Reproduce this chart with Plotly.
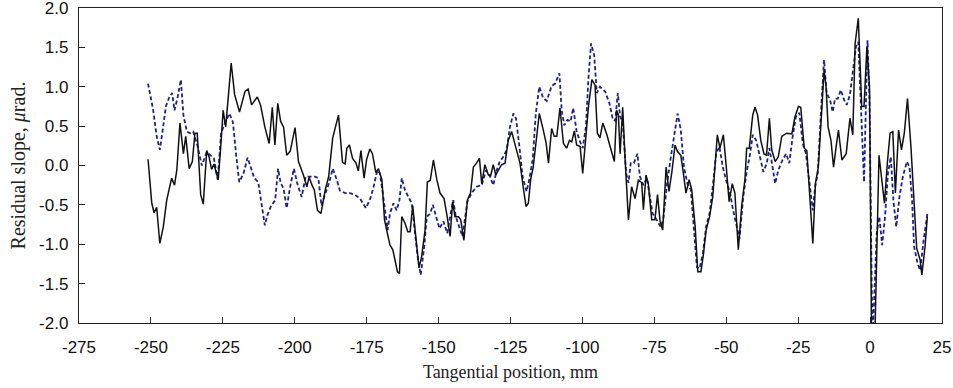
import plotly.graph_objects as go

black_x = [-251,-249.7,-248.9,-248,-246.9,-245.7,-244.5,-242.8,-241.8,-241,-239.9,-238.7,-237.9,-236.7,-235.6,-234.7,-233.9,-232.7,-231.8,-230.6,-229.8,-228.9,-228.1,-227.4,-226.6,-225.8,-224.9,-224,-223.2,-222.1,-220.9,-219.2,-218.1,-217.3,-216.2,-215,-213,-211.9,-210.4,-208.9,-207.8,-206.9,-205.9,-204.9,-203.9,-202.8,-201.6,-199.9,-198.7,-197,-195.8,-195,-194,-193.2,-192.1,-190.9,-189.4,-188.2,-186.8,-184.8,-183.4,-182.5,-181.9,-181,-179.9,-178.7,-177.9,-177,-175.9,-175,-173.9,-173,-171.8,-170.9,-169.7,-168.8,-167.8,-166.9,-165.9,-165.1,-164.3,-163.6,-162.8,-161.7,-160.7,-159.9,-159,-157.8,-156.8,-155.9,-154.7,-153.9,-152.9,-151.8,-150.6,-149.5,-148.1,-147,-146,-145.1,-144.3,-143.1,-142.3,-141.2,-140,-138.9,-137.9,-136.8,-135.8,-135,-133.9,-132.7,-131.9,-131,-130.1,-129.2,-128.1,-126.9,-125.8,-124.6,-123.8,-122.8,-121.7,-120.6,-119.6,-118.8,-118,-117.1,-115.9,-115,-113.6,-112.6,-111.8,-110.7,-109.8,-108.9,-107.8,-106.6,-105.5,-104.5,-103.7,-102.8,-102,-100.8,-99.9,-98.8,-97.9,-96.7,-95.6,-94.8,-93.9,-92.9,-91.5,-90.2,-88.9,-88.1,-87.5,-86.9,-86,-85.2,-84,-82.9,-81.7,-80.5,-79.4,-78.8,-77.9,-77.1,-75.9,-74.8,-73.9,-73,-72.1,-70.9,-69.9,-68.9,-67.8,-67,-65.8,-64.9,-64,-62.9,-62,-60.8,-59.9,-58.8,-57.9,-57,-55.8,-54.7,-53.9,-53.1,-52.2,-51,-50.1,-49,-47.9,-47,-45.8,-44.6,-43.5,-42.9,-42,-40.8,-40,-39.1,-38,-36.9,-36,-35,-34.2,-33,-31.9,-30.7,-29,-27.2,-26.1,-24.9,-24.1,-22.9,-22,-21.1,-19.9,-19,-18,-16.8,-16,-15.3,-14.6,-13.6,-12.7,-11.8,-11,-9.8,-8.3,-7,-6,-5.2,-4.1,-2.9,-2.1,-1.1,-0.2,0.6,1.4,3.1,4.1,5,6,6.95,7.9,8.8,9.9,10.9,11.9,13,14.2,15.3,16.2,17.4,18,19.1,19.9]
black_y = [0.08,-0.48,-0.6,-0.53,-0.99,-0.78,-0.44,-0.16,-0.25,-0.06,0.54,0.15,0.37,-0.04,0.05,0.41,0.41,-0.37,-0.49,0.19,0.11,-0.05,0.02,-0.06,-0.18,0.2,0.7,0.49,0.83,1.30,0.9,0.68,0.83,0.94,0.97,0.77,0.87,0.77,0.49,0.28,0.74,0.26,0.79,0.56,0.49,0.13,0.18,0.48,0.05,-0.12,-0.27,-0.15,-0.25,-0.31,-0.57,-0.61,-0.31,-0.14,0.35,0.64,0.04,0.02,0.22,0.26,0.09,0.03,-0.07,0.19,-0.16,0.08,0.21,0.15,-0.09,-0.04,-0.18,-0.69,-0.86,-1.01,-1.07,-1.22,-1.35,-1.37,-0.65,-0.73,-0.84,-0.84,-0.51,-0.95,-1.30,-1.16,-0.82,-0.21,-0.19,0.07,-0.18,-0.35,-0.42,-0.65,-0.90,-0.46,-0.65,-0.65,-0.69,-0.95,-0.44,-0.35,-0.02,0.03,0.09,-0.23,0.01,-0.12,-0.13,0.01,-0.12,-0.06,0.01,0.03,0.32,0.43,0.32,0.15,0.03,-0.27,-0.52,-0.48,-0.18,-0.02,0.41,0.66,0.45,0.28,0.03,0.47,0.37,0.37,0.73,0.28,0.22,0.32,0.30,0.44,0.26,0.24,-0.10,0.41,0.75,1.09,1.02,0.41,0.35,0.54,0.39,0.22,0.05,0.70,0.64,0.15,0.74,0.11,-0.69,-0.27,-0.42,-0.18,-0.22,-0.56,-0.12,-0.23,-0.69,-0.69,-0.37,-0.71,-0.82,-0.02,-0.33,-0.08,0.26,0.18,0.13,-0.10,-0.35,-0.18,-0.31,-0.78,-1.35,-1.35,-1.12,-0.82,-0.65,-0.40,0.03,0.39,0.22,0.39,0.03,-0.46,-0.23,-0.35,-1.07,-0.50,-0.18,0.22,0.22,0.64,0.74,0.64,0.32,0.15,0.13,0.60,0.20,0.05,0.11,0.37,0.41,0.40,0.62,0.75,0.74,0.22,0.19,-0.27,-0.99,-0.23,-0.02,0.70,1.21,1.0,0.49,0.32,-0.02,0.24,0.45,0.07,0.15,0.60,0.39,1.55,1.87,0.75,0.75,1.51,1.0,-2.6,-2.6,0.13,-0.23,-0.48,0.03,0.41,0.43,-0.35,0.45,0.20,0.41,0.85,0.24,-0.44,-1.05,-1.20,-1.39,-1.03,-0.65]

blue_x = [-251,-249.2,-248,-246.9,-245.9,-244.8,-243.6,-242.6,-241.8,-240.7,-239.6,-238.7,-237.5,-236.3,-235.3,-233.8,-232.3,-230.6,-228.1,-226.8,-225.6,-224.2,-222.7,-221.5,-220.3,-219.3,-217.8,-216.4,-215.3,-214.1,-212.7,-211.6,-210.4,-209.5,-208.3,-206.8,-205.8,-204.9,-203.9,-202.8,-201.7,-200.3,-199.1,-197.6,-196.2,-194.7,-193,-191.8,-190.7,-189.5,-188,-186.8,-185.4,-184.3,-182.5,-180.8,-179.1,-177.3,-175.3,-173.9,-172.7,-171.3,-170.4,-169.4,-168.6,-167.7,-166.9,-165.7,-164.6,-163.6,-162.8,-161.7,-160.5,-159.3,-158.2,-157.2,-156.2,-155,-154.1,-152.9,-152,-150.9,-149.7,-148.3,-147,-145.8,-144.9,-144,-142.8,-141.7,-140,-138.5,-136.8,-135,-133.5,-132.1,-131,-129.8,-128.7,-127.5,-126.3,-125.2,-124,-123.1,-121.9,-120.8,-119.4,-118.5,-117.3,-116.2,-115,-113.7,-112.4,-110.7,-109.5,-108,-107.2,-106.3,-105.2,-104.1,-103.2,-102,-100.8,-99.9,-98.8,-97.9,-97,-95.9,-95,-93.9,-92.1,-90.6,-89.4,-88.6,-87.7,-86.9,-86,-84.8,-84,-83.2,-82.1,-80.9,-80,-78.8,-77.6,-76.6,-75.6,-74.2,-72.8,-71.9,-70.7,-69.5,-68.4,-66.9,-65.8,-64.7,-63.5,-62.3,-61.2,-60.2,-59.3,-58.1,-57,-55.8,-54.7,-53.5,-52.4,-51.2,-50.1,-48.7,-47.6,-46.4,-45.4,-44.1,-42.9,-41.7,-40.8,-39.6,-38.5,-37.1,-35.9,-35,-33.9,-33,-31.9,-30.7,-29.2,-28.1,-26.9,-25.8,-24.6,-23.4,-22.3,-21.1,-19.9,-19.1,-18.2,-17.1,-16,-15.1,-13.9,-13,-12.2,-11.2,-10.2,-9,-8.1,-7,-6,-4.9,-4.1,-2.9,-2.1,-0.9,-0.2,0.6,1.0,2.3,3.2,4.2,5.2,6.2,7.2,8.1,9.1,10.2,11.4,12.8,13.7,14.6,15.3,16.5,17.4,18.6,20]
blue_y = [1.04,0.70,0.37,0.20,0.45,0.75,0.87,0.92,0.70,0.87,1.09,0.64,0.43,0.41,0.43,0.25,0.0,0.17,0.09,-0.18,0.41,0.55,0.66,0.55,0.11,-0.21,-0.10,0.10,-0.02,-0.16,-0.21,-0.48,-0.76,-0.63,-0.52,-0.44,-0.04,-0.22,-0.29,-0.54,-0.29,-0.04,-0.23,-0.40,-0.14,-0.14,-0.14,-0.16,-0.51,-0.37,-0.21,-0.04,-0.18,-0.32,-0.35,-0.35,-0.37,-0.42,-0.54,-0.44,-0.29,-0.06,-0.10,-0.35,-0.61,-0.82,-0.61,-0.48,-0.57,-0.44,-0.16,-0.31,-0.40,-0.48,-0.86,-1.18,-1.39,-1.03,-0.65,-0.61,-0.50,-0.65,-0.80,-0.71,-0.86,-0.61,-0.44,-0.65,-0.78,-0.90,-0.46,-0.35,-0.27,-0.25,-0.06,-0.14,-0.25,-0.06,0.05,0.11,0.20,0.49,0.66,0.60,0.24,-0.14,-0.33,-0.18,0.07,0.66,1.0,0.86,0.82,1.01,1.04,1.17,0.70,0.51,0.58,0.56,0.73,0.43,0.30,0.22,0.49,1.11,1.55,1.40,0.92,1.0,0.94,0.79,0.58,0.57,0.92,0.62,0.55,-0.10,-0.22,0.03,0.03,0.15,-0.14,-0.25,-0.16,-0.38,-0.61,-0.69,-0.78,-0.69,-0.27,0.05,0.32,0.66,0.45,-0.02,-0.23,-0.31,-0.82,-1.29,-1.31,-1.11,-0.78,-0.61,-0.27,0.15,0.24,-0.02,-0.18,-0.35,-0.57,-0.78,-0.93,-0.40,-0.08,0.15,0.39,0.32,0.15,-0.08,0.03,0.22,-0.02,-0.23,-0.06,0.05,0.15,0.03,0.37,0.62,0.67,0.28,0.15,-0.23,-0.57,-0.27,-0.10,0.66,1.34,0.92,0.83,0.68,0.85,0.85,0.96,0.83,0.77,0.90,1.2,1.51,1.57,0.58,-0.21,1.59,0.83,-1.62,-2.1,-0.86,-0.65,-1.01,-0.65,-0.10,0.11,-0.44,-0.78,-0.40,-0.14,0.05,-0.02,-0.44,-1.03,-1.24,-1.33,-0.95,-0.59]

x_ticks = [-275, -250, -225, -200, -175, -150, -125, -100, -75, -50, -25, 0, 25]
x_labels = ["-275", "-250", "-225", "-200", "-175", "-150", "-125", "-100", "-75", "-50", "-25", "0", "25"]
y_ticks = [2.0, 1.5, 1.0, 0.5, 0.0, -0.5, -1.0, -1.5, -2.0]
y_labels = ["2.0", "1.5", "1.0", "0.5", "0.0", "-0.5", "-1.0", "-1.5", "-2.0"]

fig = go.Figure()
fig.add_trace(go.Scatter(x=blue_x, y=blue_y, mode="lines",
                         line=dict(color="#1f1f8f", width=1.8, dash="4px,2.5px"),
                         showlegend=False))
fig.add_trace(go.Scatter(x=black_x, y=black_y, mode="lines",
                         line=dict(color="#111111", width=1.5),
                         showlegend=False))

tick_font = dict(family="Liberation Sans, Arial, sans-serif", size=17, color="#111111")
fig.update_layout(
    width=953, height=388,
    margin=dict(l=79, r=11, t=8, b=65, autoexpand=False),
    paper_bgcolor="white", plot_bgcolor="white",
    xaxis=dict(range=[-275, 25], tickvals=x_ticks, ticktext=x_labels,
               ticks="inside", ticklen=6, tickcolor="#222222", tickwidth=1,
               showline=True, linecolor="#222222", linewidth=1.2, mirror=True,
               showgrid=False, zeroline=False, tickfont=tick_font,
               automargin=False, ticklabeloverflow="allow",
               ticklabelstandoff=8,
               title=dict(text="Tangential position, mm",
                          font=dict(family="Liberation Serif, Times New Roman, serif", size=18, color="#222222"),
                          standoff=9)),
    yaxis=dict(range=[-2.0, 2.0], tickvals=y_ticks, ticktext=y_labels,
               ticks="inside", ticklen=6, tickcolor="#222222", tickwidth=1,
               showline=True, linecolor="#222222", linewidth=1.2, mirror=True,
               showgrid=False, zeroline=False, tickfont=tick_font,
               automargin=False, ticklabeloverflow="allow",
               ticklabelstandoff=6,
               title=dict(text="Residual slope, <i>μ</i>rad.",
                          font=dict(family="Liberation Serif, Times New Roman, serif", size=20, color="#222222"),
                          standoff=8)),
)

fig.write_html("out.html",
               config={"displayModeBar": False, "staticPlot": True},
               post_script="document.body.style.margin='0px';document.body.style.overflow='hidden';")
